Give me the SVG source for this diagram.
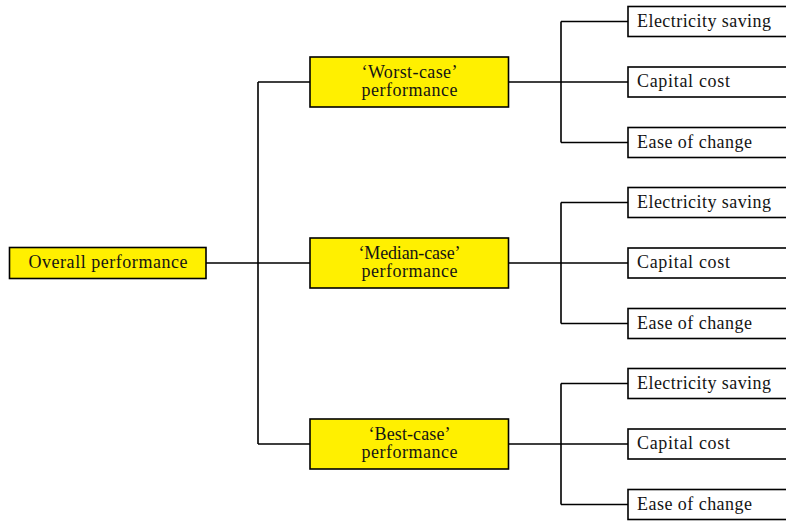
<svg xmlns="http://www.w3.org/2000/svg" width="786" height="521" viewBox="0 0 786 521">
<style>
.y{fill:#FFF000;stroke:#000;stroke-width:1.6}
.w{fill:#fff;stroke:#000;stroke-width:1.6}
.t{font-size:18px;fill:#141414}
.c{text-anchor:middle}
.ln{fill:none;stroke:#000;stroke-width:1.6}
</style>
<rect width="786" height="521" fill="#fff"/>
<g id="connectors" class="ln">
<path d="M206 263H310M258 82V444M258 82H310M258 444H310"/>
<path d="M508 82H628M561 21.5V142.5M561 21.5H628M561 142.5H628"/>
<path d="M508 263H628M561 202.5V323.5M561 202.5H628M561 323.5H628"/>
<path d="M508 444H628M561 383.5V504.5M561 383.5H628M561 504.5H628"/>
</g>
<g font-family="'Liberation Serif', 'DejaVu Serif', serif">
<g id="root"><rect class="y" x="9.5" y="247.5" width="196.5" height="31"/><text class="t" x="28.5" y="268" textLength="159">Overall performance</text></g>
<g id="worst"><rect class="y" x="310" y="57" width="198.5" height="50"/><text class="t c" x="409.5" y="77.5" textLength="96">‘Worst-case’</text><text class="t c" x="409.5" y="96" textLength="96">performance</text></g>
<g id="median"><rect class="y" x="310" y="238" width="198.5" height="50"/><text class="t c" x="409.5" y="258.5" textLength="102">‘Median-case’</text><text class="t c" x="409.5" y="277" textLength="96">performance</text></g>
<g id="best"><rect class="y" x="310" y="419" width="198.5" height="50"/><text class="t c" x="409.5" y="439.5" textLength="82">‘Best-case’</text><text class="t c" x="409.5" y="458" textLength="96">performance</text></g>
<g id="w1"><rect class="w" x="628" y="6.5" width="200" height="30"/><text class="t" x="637" y="26.5" textLength="134">Electricity saving</text></g>
<g id="w2"><rect class="w" x="628" y="67" width="200" height="30"/><text class="t" x="637" y="87" textLength="93">Capital cost</text></g>
<g id="w3"><rect class="w" x="628" y="127.5" width="200" height="30"/><text class="t" x="637" y="147.5" textLength="115">Ease of change</text></g>
<g id="m1"><rect class="w" x="628" y="187.5" width="200" height="30"/><text class="t" x="637" y="207.5" textLength="134">Electricity saving</text></g>
<g id="m2"><rect class="w" x="628" y="248" width="200" height="30"/><text class="t" x="637" y="268" textLength="93">Capital cost</text></g>
<g id="m3"><rect class="w" x="628" y="308.5" width="200" height="30"/><text class="t" x="637" y="328.5" textLength="115">Ease of change</text></g>
<g id="b1"><rect class="w" x="628" y="368.5" width="200" height="30"/><text class="t" x="637" y="388.5" textLength="134">Electricity saving</text></g>
<g id="b2"><rect class="w" x="628" y="429" width="200" height="30"/><text class="t" x="637" y="449" textLength="93">Capital cost</text></g>
<g id="b3"><rect class="w" x="628" y="489.5" width="200" height="30"/><text class="t" x="637" y="509.5" textLength="115">Ease of change</text></g>
</g>
</svg>
